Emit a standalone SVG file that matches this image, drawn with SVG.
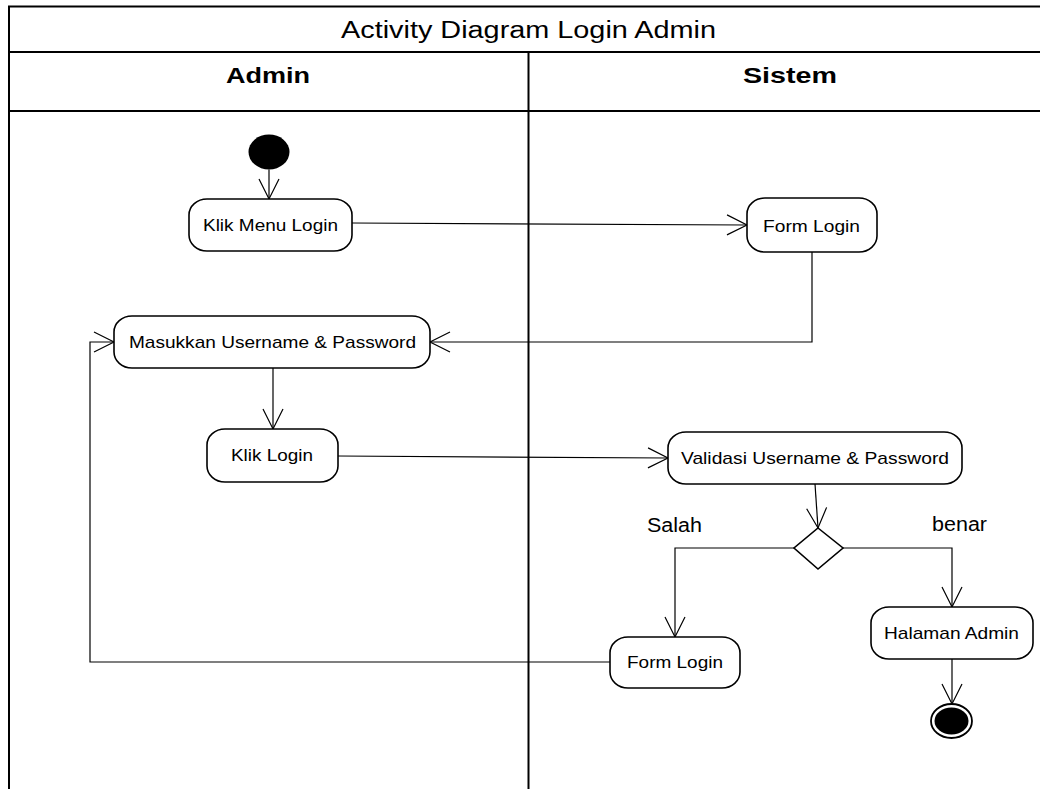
<svg xmlns="http://www.w3.org/2000/svg" width="1040" height="789" viewBox="0 0 1040 789">
<style>
.frame{fill:none;stroke:#000;stroke-width:2}
.node rect{fill:#fff;stroke:#000;stroke-width:1.6}
.t{font-family:"Liberation Sans",Arial,sans-serif;fill:#000}
.nt{font-size:17px;text-anchor:middle}
.hd{font-size:22px;font-weight:bold;text-anchor:middle}
.lbl{font-size:20px}
.conn{fill:none;stroke:#000;stroke-width:1.2}
</style>
<defs>
<marker id="open" markerUnits="userSpaceOnUse" viewBox="-22 -12 24 24" refX="0" refY="0" markerWidth="24" markerHeight="24" orient="auto">
<path d="M-20,-10 L0,0 L-20,10" fill="none" stroke="#000" stroke-width="1.2"/>
</marker>
</defs>
<rect width="1040" height="789" fill="#fff"/>
<g id="frame">
<path class="frame" d="M1040,6.5 H9 V789"/>
<path class="frame" d="M9,52 H1040"/>
<path class="frame" d="M9,111 H1040"/>
<path class="frame" d="M528.5,52 V789"/>
<text class="t" x="528.5" y="37.5" font-size="23" text-anchor="middle" textLength="375" lengthAdjust="spacingAndGlyphs">Activity Diagram Login Admin</text>
<text class="t hd" x="268" y="83" textLength="84" lengthAdjust="spacingAndGlyphs">Admin</text>
<text class="t hd" x="790" y="83" textLength="94" lengthAdjust="spacingAndGlyphs">Sistem</text>
</g>
<g id="connectors">
<path class="conn" d="M269,169.5 V199" marker-end="url(#open)"/>
<path class="conn" d="M352,223 L747,225" marker-end="url(#open)"/>
<path class="conn" d="M812,252 V342 H430" marker-end="url(#open)"/>
<path class="conn" d="M273,368 V429" marker-end="url(#open)"/>
<path class="conn" d="M338,456 L668,458" marker-end="url(#open)"/>
<path class="conn" d="M815,484 L818,528" marker-end="url(#open)"/>
<path class="conn" d="M794,548 H675 V637" marker-end="url(#open)"/>
<path class="conn" d="M843,548 H952 V607" marker-end="url(#open)"/>
<path class="conn" d="M952,659 V704" marker-end="url(#open)"/>
<path class="conn" d="M610,662 H90 V342 H114" marker-end="url(#open)"/>
<text class="t lbl" x="647" y="532" textLength="55" lengthAdjust="spacingAndGlyphs">Salah</text>
<text class="t lbl" x="932" y="531" textLength="55" lengthAdjust="spacingAndGlyphs">benar</text>
</g>
<g id="start">
<ellipse cx="269" cy="152" rx="20.5" ry="17.5" fill="#000"/>
</g>
<g id="klik-menu-login" class="node">
<rect x="189" y="199" width="163" height="52" rx="18" ry="16"/>
<text class="t nt" x="270.5" y="231" textLength="135" lengthAdjust="spacingAndGlyphs">Klik Menu Login</text>
</g>
<g id="form-login-1" class="node">
<rect x="747" y="198" width="130" height="54" rx="18" ry="16"/>
<text class="t nt" x="811.5" y="231.5" textLength="97" lengthAdjust="spacingAndGlyphs">Form Login</text>
</g>
<g id="masukkan" class="node">
<rect x="114" y="316" width="316" height="52" rx="18" ry="16"/>
<text class="t nt" x="272.5" y="347.5" textLength="287" lengthAdjust="spacingAndGlyphs">Masukkan Username &amp; Password</text>
</g>
<g id="klik-login" class="node">
<rect x="207" y="429" width="131" height="53" rx="18" ry="16"/>
<text class="t nt" x="272" y="461" textLength="82" lengthAdjust="spacingAndGlyphs">Klik Login</text>
</g>
<g id="validasi" class="node">
<rect x="668" y="432" width="294" height="52" rx="18" ry="16"/>
<text class="t nt" x="815" y="464" textLength="268" lengthAdjust="spacingAndGlyphs">Validasi Username &amp; Password</text>
</g>
<g id="decision">
<polygon points="818,528 843,548 818,569 794,548" fill="#fff" stroke="#000" stroke-width="1.6"/>
</g>
<g id="form-login-2" class="node">
<rect x="610" y="637" width="130" height="51" rx="18" ry="16"/>
<text class="t nt" x="675" y="668" textLength="96" lengthAdjust="spacingAndGlyphs">Form Login</text>
</g>
<g id="halaman-admin" class="node">
<rect x="871" y="607" width="162" height="52" rx="18" ry="16"/>
<text class="t nt" x="951.5" y="639" textLength="135" lengthAdjust="spacingAndGlyphs">Halaman Admin</text>
</g>
<g id="end">
<ellipse cx="951.5" cy="721" rx="20.5" ry="17" fill="#fff" stroke="#000" stroke-width="1.8"/>
<ellipse cx="951.5" cy="721" rx="17" ry="13.5" fill="#000"/>
</g>
</svg>
